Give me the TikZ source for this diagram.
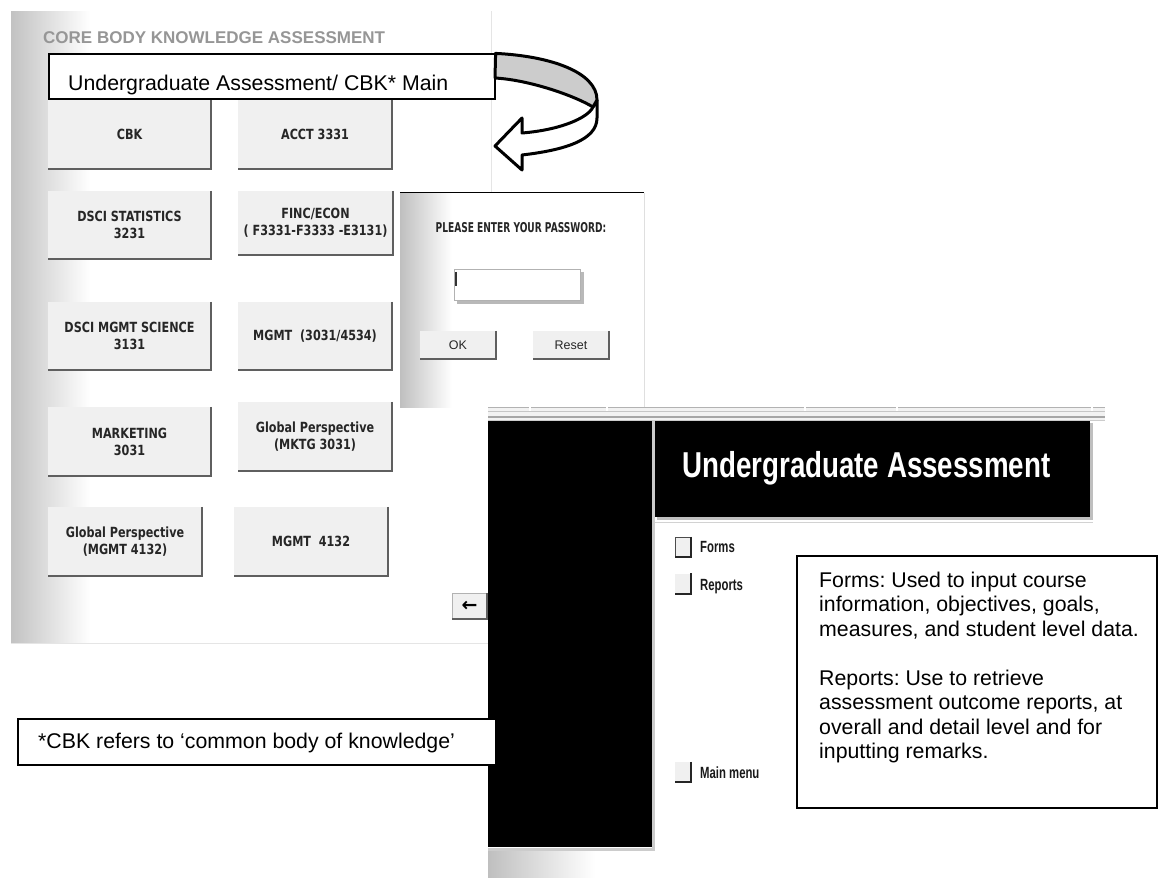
\documentclass[tikz,border=0pt]{standalone}
\usepackage{graphicx}
\usepackage{fontspec}
\setmainfont{Liberation Sans}
\newfontfamily\tahoma[FakeStretch=0.80]{DejaVu Sans}
\newfontfamily\narrowf[FakeStretch=0.77]{Liberation Sans}
\newfontfamily\narrowg[FakeStretch=0.70]{Liberation Sans}
\newfontfamily\dejavu{DejaVu Sans}
\usetikzlibrary{calc}
\definecolor{titlegray}{RGB}{150,150,150}
\definecolor{btnfill}{RGB}{240,240,240}
\definecolor{btnedge}{RGB}{95,95,95}
\definecolor{arrowgray}{RGB}{204,204,204}
\newcommand\mybtn[7][]{%
  \node[winbtn, minimum width={#5-#3}, minimum height={#6-#4}, #1] (#2) at ({(#3+#5)/2},{(#4+#6)/2}) {#7};
  \draw[btnshadow] (#2.north east) -- (#2.south east) -- (#2.south west);}
\begin{document}
\frenchspacing
\begin{tikzpicture}[x=1pt,y=-1pt,
  winbtn/.style={fill=btnfill, inner sep=0pt, align=center, text=black!85,
    font=\tahoma\bfseries\fontsize{14}{17}\selectfont},
  btnshadow/.style={draw=btnedge, line width=2pt},
  boxed/.style={draw=black, line width=1.2pt, fill=white, inner sep=0pt},
  plain/.style={inner sep=0pt},
  body/.style={font=\fontsize{21.3}{24.5}\selectfont},
  menu/.style={inner sep=0pt, text=black!90, font=\narrowg\bfseries\fontsize{16.2}{18}\selectfont},
  sq/.style={fill=gray!12, inner sep=0pt, minimum width=16pt, minimum height=20pt},
  sqedge/.style={draw=black!85, line width=1.6pt},
  ]
\useasboundingbox (0,0) rectangle (1160,878);
\fill[white] (0,0) rectangle (1160,878);

% ---------- left panel (CBK main) ----------
\shade[left color=gray!48, right color=white] (11,11) rectangle (90,643);
\draw[gray!20] (491,11) -- (491,193);
\draw[gray!20] (11,643) -- (488,643);
\node[plain, anchor=base west, text=titlegray, font=\bfseries\fontsize{17}{19}\selectfont] (title) at (43,43) {CORE BODY KNOWLEDGE ASSESSMENT};

\mybtn{bcbk}{48}{100}{211}{169}{CBK}
\mybtn{bacct}{238}{100}{392}{169}{ACCT 3331}
\mybtn{bstat}{48}{191}{211}{259}{DSCI STATISTICS\\3231}
\mybtn{bfinc}{238}{191}{393}{255}{FINC/ECON\\( F3331-F3333 -E3131)}
\mybtn{bmsci}{48}{302}{211}{370}{DSCI MGMT SCIENCE\\3131}
\mybtn{bmgmt}{238}{302}{392}{370}{MGMT~ (3031/4534)}
\mybtn{bmkt}{48}{407}{211}{476}{MARKETING\\3031}
\mybtn{bgpm}{238}{402}{392}{471}{Global Perspective\\(MKTG 3031)}
\mybtn{bgpg}{48}{507}{202}{576}{Global Perspective\\(MGMT 4132)}
\mybtn{bm4132}{234}{507}{388}{576}{MGMT~ 4132}

% ---------- callout with curved arrow ----------
\node[boxed, minimum width=446pt, minimum height=45pt] (callout) at (272,76.5) {};
\node[plain, anchor=base west, body] (callouttext) at (68,90) {Undergraduate Assessment/ CBK* Main};
\filldraw[fill=white, draw=black, line width=3pt, line join=round]
  (597,100) -- (597,118) .. controls (597,140) and (565,150) .. (522,155)
  -- (522,170) -- (495,146) -- (522,118) -- (522,133)
  .. controls (560,130) and (588,118) .. (593,107) -- cycle;
\filldraw[fill=arrowgray, draw=black, line width=3pt, line join=round]
  (callout.north east) .. controls (550,56) and (597,72) .. (597,100)
  -- (593,107) .. controls (575,96) and (530,80) .. (495,78) -- cycle;

% ---------- password dialog ----------
\node[fill=white, inner sep=0pt, minimum width=244pt, minimum height=214pt] (dlg) at (522,300) {};
\shade[left color=gray!50, right color=white] (400,193) rectangle (452,407);
\draw[black, line width=1.2pt] (dlg.north west) -- (dlg.north east);
\draw[gray!25] (dlg.north east) -- (dlg.south east);
\node[plain, text=black!85, font=\tahoma\bfseries\fontsize{13.5}{16}\selectfont] (pwtext) at (521,228) {\scalebox{0.84}[1]{PLEASE ENTER YOUR PASSWORD:}};
\node[fill=white, draw=gray!60, inner sep=0pt, minimum width=126pt, minimum height=31pt] (field) at (517,284.5) {};
\draw[gray!55, line width=2.5pt] ($(field.north east)+(2.5,3)$) -- ($(field.south east)+(2.5,2.5)$) -- ($(field.south west)+(3,2.5)$);
\draw[black!80, line width=2pt] ($(field.north west)+(2.5,3)$) -- ++(0,14);
\mybtn[font=\fontsize{12.5}{14}\selectfont]{bok}{420}{331}{496}{359}{OK}
\mybtn[font=\fontsize{12.5}{14}\selectfont]{breset}{533}{331}{609}{359}{Reset}

% back button
\mybtn[draw=gray!60, font=\dejavu\bfseries\fontsize{19}{19}\selectfont, text=black]{bback}{452}{593}{487}{619}{←}

% ---------- Undergraduate Assessment window ----------
\fill[gray!10] (488,407) rectangle (1105,421);
\draw[gray!60] (488,407.5) -- (1105,407.5);
\draw[gray!45] (488,411) -- (1105,411);
\draw[gray!70, line width=1.5pt] (488,417) -- (1105,417);
\draw[gray!40] (488,420.5) -- (1105,420.5);
\foreach \nx in {530,607,805,897,1092} {\draw[white, line width=1.5pt] (\nx,406) -- (\nx,411);}

\node[fill=black, inner sep=0pt, minimum width=164pt, minimum height=426pt] (leftblack) at (570,634) {};
\draw[gray!40, line width=2.5pt] (653.5,421) -- (653.5,849.5) -- (488,849.5);
\shade[left color=gray!50, right color=white] (488,851) rectangle (595,878);

\node[fill=black, inner sep=0pt, minimum width=435pt, minimum height=96pt] (header) at (872.5,469) {};
\draw[gray!50, line width=3pt] ($(header.north east)+(1.5,2)$) -- ($(header.south east)+(1.5,1.5)$) -- ($(header.south west)+(2,1.5)$);
\node[plain, anchor=base west, text=white, font=\narrowf\bfseries\fontsize{36}{40}\selectfont] (headtext) at (682,477) {Undergraduate Assessment};
\draw[gray!35] (655,522.5) -- (1093,522.5);

\node[sq, draw=black!70] (sqforms) at (683,547) {};
\draw[sqedge] (sqforms.north east) -- (sqforms.south east) -- (sqforms.south west);
\node[menu, anchor=base west] (lforms) at (700,552) {Forms};
\node[sq] (sqreports) at (683,583.5) {};
\draw[sqedge] (sqreports.north east) -- (sqreports.south east) -- (sqreports.south west);
\node[menu, anchor=base west] (lreports) at (700,590) {Reports};
\node[sq] (sqmain) at (683,772) {};
\draw[sqedge] (sqmain.north east) -- (sqmain.south east) -- (sqmain.south west);
\node[menu, anchor=base west] (lmain) at (700,778) {Main menu};

% ---------- description box ----------
\node[draw=black, line width=1.3pt, fill=white, inner sep=0pt, minimum width=360pt, minimum height=252pt] (desc) at (977,682) {};
\node[plain, anchor=north west, align=left, body] (desctext) at (819,571.5)
  {Forms: Used to input course\\ information, objectives, goals,\\ measures, and student level data.\\[24.5pt]
   Reports: Use to retrieve\\ assessment outcome reports, at\\ overall and detail level and for\\ inputting remarks.};

% ---------- footnote ----------
\node[boxed, minimum width=478pt, minimum height=46pt] (note) at (257,742) {};
\node[plain, anchor=base west, body] (notetext) at (38,748) {*CBK refers to ‘common body of knowledge’};
\end{tikzpicture}
\end{document}
